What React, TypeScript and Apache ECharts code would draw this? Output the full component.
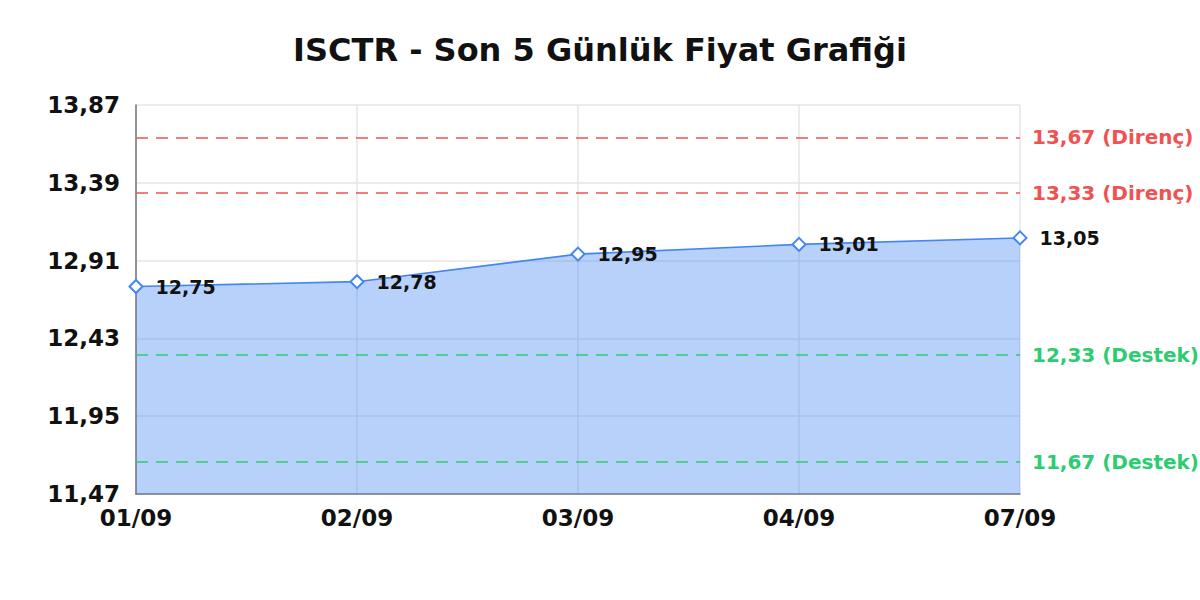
import { useEffect, useRef } from 'react'
import * as echarts from 'echarts'

const dates = ['01/09', '02/09', '03/09', '04/09', '07/09']
const prices = [12.75, 12.78, 12.95, 13.01, 13.05]
const resistance = [13.67, 13.33]
const support = [12.33, 11.67]

const yMin = 11.47
const yMax = 13.87
const yStep = 0.48

const FONT = '"DejaVu Sans", sans-serif'
const comma = (v: number) => v.toFixed(2).replace('.', ',')

export default function App() {
  const chartRef = useRef<HTMLDivElement | null>(null)

  useEffect(() => {
    if (!chartRef.current) {
      return undefined
    }

    const chart = echarts.init(chartRef.current, undefined, { renderer: 'svg' })

    const levelLine = (value: number, kind: string, color: string) => ({
      yAxis: value,
      lineStyle: { color, type: [12, 8], width: 1.6 },
      label: {
        show: true,
        position: 'end',
        distance: 12,
        formatter: `${comma(value)} (${kind})`,
        color,
        fontFamily: FONT,
        fontWeight: 'bold',
        fontSize: 20,
      },
    })

    chart.setOption({
      animation: false,
      backgroundColor: '#ffffff',
      title: {
        text: 'ISCTR - Son 5 Günlük Fiyat Grafiği',
        left: 'center',
        top: 29,
        textStyle: {
          fontFamily: FONT,
          fontWeight: 'bold',
          fontSize: 32,
          color: '#111111',
        },
      },
      grid: { left: 136, right: 180, top: 105, bottom: 106 },
      xAxis: {
        type: 'category',
        boundaryGap: false,
        data: dates,
        axisLine: { lineStyle: { color: '#777777', width: 1.5 } },
        axisTick: { show: false },
        axisLabel: {
          color: '#111111',
          fontFamily: FONT,
          fontWeight: 'bold',
          fontSize: 23,
          margin: 12,
        },
        splitLine: { show: true, lineStyle: { color: '#e6e6e6', width: 1.5 } },
      },
      yAxis: {
        type: 'value',
        min: yMin,
        max: yMax,
        interval: yStep,
        axisLine: { show: true, lineStyle: { color: '#777777', width: 1.5 } },
        axisTick: { show: false },
        axisLabel: {
          color: '#111111',
          fontFamily: FONT,
          fontWeight: 'bold',
          fontSize: 23,
          margin: 16,
          formatter: (v: number) => comma(v),
        },
        splitLine: { lineStyle: { color: '#e6e6e6', width: 1.5 } },
      },
      series: [
        {
          name: 'Fiyat',
          type: 'line',
          data: prices,
          symbol: 'emptyDiamond',
          symbolSize: 13,
          lineStyle: { color: '#4285f4', width: 1.6 },
          itemStyle: { color: '#4285f4', borderWidth: 2.5 },
          areaStyle: { color: '#4285f4', opacity: 0.38 },
          label: {
            show: true,
            position: 'right',
            distance: 12,
            color: '#111111',
            fontFamily: FONT,
            fontWeight: 'bold',
            fontSize: 19,
            formatter: (p: { value: number }) => comma(p.value),
          },
          markLine: {
            silent: true,
            symbol: ['none', 'none'],
            data: [
              ...resistance.map((v) => levelLine(v, 'Direnç', '#f05252')),
              ...support.map((v) => levelLine(v, 'Destek', '#2ecc71')),
            ],
          },
        },
      ],
    })

    return () => {
      chart.dispose()
    }
  }, [])

  return (
    <div
      ref={chartRef}
      style={{ position: 'fixed', left: 0, top: 0, width: 1200, height: 600 }}
    />
  )
}
